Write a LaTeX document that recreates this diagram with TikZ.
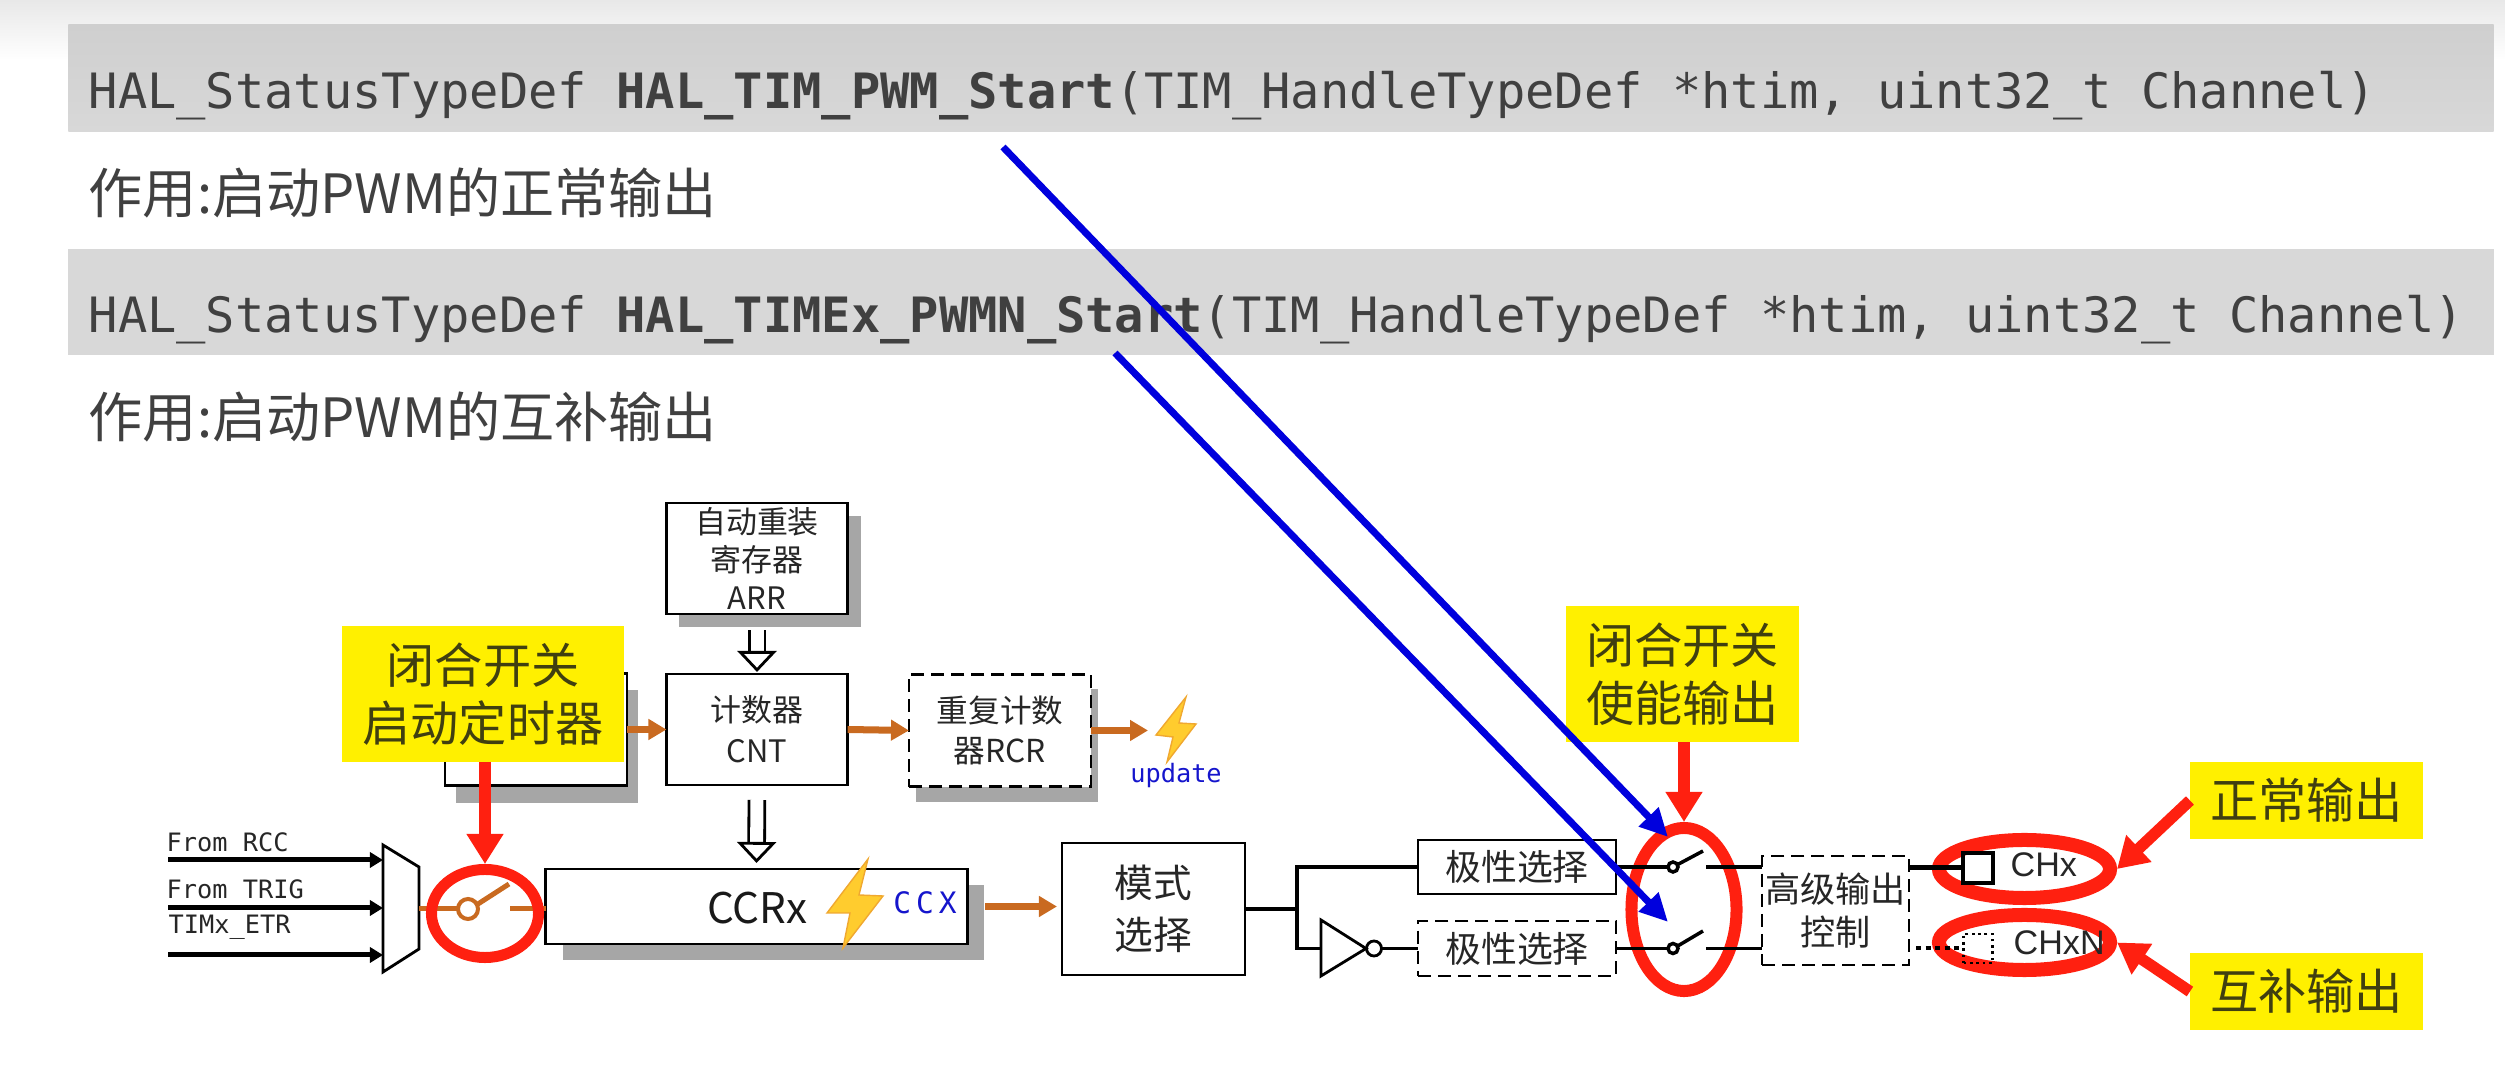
\documentclass[tikz,border=0pt]{standalone}
\usepackage{fontspec}
\usepackage{xcolor}
\setmainfont{Liberation Sans}
\setmonofont{DejaVu Sans Mono}
\newfontfamily\cjkfont{Noto Sans CJK SC}
\usepackage{tikz}
\usetikzlibrary{arrows.meta, positioning, shadows, shapes.geometric}

\definecolor{bandgray}{HTML}{D8D8D8}
\definecolor{bandtop}{HTML}{CFCFCF}
\definecolor{textgray}{HTML}{404040}
\definecolor{shadowgray}{HTML}{A6A6A6}
\definecolor{wireorange}{HTML}{C96A20}
\definecolor{markred}{HTML}{FF2010}
\definecolor{noteyellow}{HTML}{FFF000}
\definecolor{noteink}{HTML}{403F10}
\definecolor{boltyellow}{HTML}{FFCC2E}
\definecolor{boltedge}{HTML}{F0A830}
\definecolor{markblue}{HTML}{0000DD}
\definecolor{labelblue}{HTML}{1515CC}

\begin{document}
\begin{tikzpicture}[
  x=0.01cm,
  y=-0.01cm,
  block/.style={
    draw=black,
    fill=white,
    line width=0.8pt,
    inner sep=0pt,
    outer sep=0pt,
    align=center,
    text=black!85,
    font=\cjkfont\fontsize{10.2}{13}\selectfont
  },
  dashblock/.style={
    block,
    dash pattern=on 3.7pt off 2pt
  },
  shadowed/.style 2 args={
    drop shadow={shadow xshift=#1,shadow yshift=#2,fill=shadowgray,opacity=1}
  },
  band/.style={
    fill=bandgray,
    inner sep=0pt,
    outer sep=0pt,
    minimum width=24.24cm,
    minimum height=1.06cm
  },
  code/.style={
    anchor=base west,
    inner sep=0pt,
    text=textgray,
    font=\ttfamily\fontsize{13.85}{16}\selectfont
  },
  remark/.style={
    anchor=west,
    inner sep=0pt,
    text=textgray,
    font=\cjkfont\fontsize{15.4}{18}\selectfont
  },
  note/.style={
    fill=noteyellow,
    inner sep=0pt,
    outer sep=0pt,
    align=center,
    text=noteink,
    font=\cjkfont\fontsize{13.7}{16.5}\selectfont
  },
  ring/.style={
    draw=markred,
    ellipse,
    inner sep=0pt
  },
  redarrow/.style={
    draw=markred,
    line width=0.115cm,
    -{Triangle[length=0.3cm,width=0.35cm,fill=markred]}
  },
  bluearrow/.style={
    draw=markblue,
    line width=0.07cm,
    -{Triangle[length=0.28cm,width=0.26cm,fill=markblue]}
  },
  orangearrow/.style={
    draw=wireorange,
    line width=0.07cm,
    -{Triangle[length=0.18cm,width=0.2cm,fill=wireorange]}
  },
  orangewire/.style={draw=wireorange,line width=0.05cm},
  wire/.style={draw=black,line width=0.035cm},
  feedarrow/.style={
    draw=black,
    line width=0.05cm,
    -{Triangle[length=0.13cm,width=0.15cm,fill=black]}
  },
  hollowarrow/.style={
    draw=black,
    line width=0.8pt,
    double=white,
    double distance=0.13cm,
    -{Triangle[open,fill=white,length=0.21cm,width=0.39cm,line width=0.8pt]}
  },
  pivot/.style={
    circle,
    draw=black,
    fill=white,
    line width=0.035cm,
    inner sep=0pt,
    outer sep=0pt,
    minimum size=0.1cm
  },
  bolt/.style={
    draw=boltedge,
    fill=boltyellow,
    line width=0.4pt
  },
  feedlabel/.style={
    anchor=west,
    inner sep=0pt,
    text=black!85,
    font=\ttfamily\fontsize{7.2}{9}\selectfont
  },
  outlabel/.style={
    anchor=west,
    inner sep=0pt,
    text=black!85,
    font=\fontsize{9.7}{12}\selectfont
  }
]

\useasboundingbox (0,0) rectangle (2505,1089);

% Page top
\shade[top color=black!9, bottom color=white] (0,0) rectangle (2505,60);

% -------------------------------------------------------------------
% Code lines
% -------------------------------------------------------------------
\node[band, top color=bandtop, bottom color=bandgray] (band1) at (1281,78) {};
\node[band] (band2) at (1281,302) {};

\node[code] (code1) at (88,109)
{HAL\_StatusTypeDef \textbf{HAL\_TIM\_PWM\_Start}(TIM\_HandleTypeDef *htim, uint32\_t Channel)};
\node[code] (code2) at (88,333)
{HAL\_StatusTypeDef \textbf{HAL\_TIMEx\_PWMN\_Start}(TIM\_HandleTypeDef *htim, uint32\_t Channel)};

\node[remark] (use1) at (88,193) {作用:启动PWM的正常输出};
\node[remark] (use2) at (88,417) {作用:启动PWM的互补输出};

% -------------------------------------------------------------------
% Counter row
% -------------------------------------------------------------------
\node[block, shadowed={0.13cm}{-0.13cm}, minimum width=1.81cm, minimum height=1.11cm,
  font=\cjkfont\fontsize{8.8}{10.8}\selectfont] (arr) at (757,558.5)
{自动重装\\寄存器\\ARR};

\node[block, shadowed={0.11cm}{-0.17cm}, minimum width=1.82cm, minimum height=1.12cm] (psc) at (536,729.5) {};

\node[block, minimum width=1.81cm, minimum height=1.11cm,
  font=\cjkfont\fontsize{8.8}{11.6}\selectfont] (cnt) at (757,729.5)
{计数器\\CNT};

\node[dashblock, shadowed={0.07cm}{-0.15cm}, minimum width=1.82cm, minimum height=1.12cm,
  font=\cjkfont\fontsize{9}{11.2}\selectfont] (rcr) at (1000,730.5)
{重复计数\\器RCR};

\coordinate (boltin) at (1148,730.5);
\draw[bolt] (1186,697) -- (1156,735) -- (1173,737) -- (1167,762) -- (1196,724) -- (1179,723) -- cycle;
\node[inner sep=0pt, text=labelblue, font=\ttfamily\fontsize{7.2}{9}\selectfont] (update) at (1176,776) {update};

\draw[orangearrow] (psc.east) -- (cnt.west);
\draw[orangearrow] (cnt.east) -- (rcr.west);
\draw[orangearrow] (rcr.east) -- (boltin);

\draw[hollowarrow, shorten <=0.16cm, shorten >=0.02cm] (arr.south) -- (cnt.north);

% -------------------------------------------------------------------
% Clock inputs
% -------------------------------------------------------------------
\node[feedlabel] (rcclabel) at (166,842) {From RCC};
\node[feedlabel] (triglabel) at (166,889) {From TRIG};
\node[feedlabel] (etrlabel) at (168,927) {TIMx\_ETR};

\coordinate (rccin) at (168,860);
\coordinate (trigin) at (168,908);
\coordinate (etrin) at (168,955);
\coordinate (muxa) at (383,860);
\coordinate (muxb) at (383,908);
\coordinate (muxc) at (383,955);
\coordinate (muxout) at (419,909);

\draw[feedarrow] (rccin) -- (muxa);
\draw[feedarrow] (trigin) -- (muxb);
\draw[feedarrow] (etrin) -- (muxc);
\draw[draw=black, fill=white, line width=0.8pt] (383,845) -- (419,867) -- (419,949) -- (383,972) -- cycle;

% -------------------------------------------------------------------
% Compare row
% -------------------------------------------------------------------
\node[pivot, draw=wireorange, line width=0.04cm, minimum size=0.2cm] (sw0) at (468,909) {};
\coordinate (sw0tip) at (509,884);
\coordinate (sw0out) at (510,909);
\draw[orangewire] (muxout) -- (sw0.west);
\draw[orangewire] (sw0) ++(26:0.1cm) -- (sw0tip);

\node[block, shadowed={0.17cm}{-0.16cm}, minimum width=4.21cm, minimum height=0.75cm] (ccr) at (756.5,906.5) {};
\draw[orangewire] (sw0out) -- (sw0out -| ccr.west);

\node[inner sep=0pt, text=black!90, font=\cjkfont\fontsize{12}{14}\selectfont] (ccrx) at (757,908) {CCRx};
\draw[bolt] (868,859) -- (827,913) -- (850,913) -- (843,948) -- (883,896) -- (859,895) -- cycle;
\node[inner sep=0pt, text=labelblue, font=\ttfamily\fontsize{8.4}{10}\selectfont] (ccx) at (925,903) {C\kern1.4pt C\kern1.4pt X};

\draw[hollowarrow, shorten <=0.15cm, shorten >=0.06cm] (cnt.south) -- (ccr.north);

\node[block, minimum width=1.83cm, minimum height=1.32cm,
  font=\cjkfont\fontsize{11}{14.6}\selectfont] (mode) at (1153.5,909)
{模式\\选择};

\draw[orangearrow, shorten <=0.18cm, shorten >=0.05cm] (ccr.east) -- (ccr.east -| mode.west);

% -------------------------------------------------------------------
% Output stage
% -------------------------------------------------------------------
\node[ring, line width=0.12cm, minimum width=1.05cm, minimum height=1.63cm] (ring1) at (1684,909.5) {};
\node[ring, line width=0.14cm, minimum width=1.71cm, minimum height=0.58cm] (ring2) at (2024.5,869) {};
\node[ring, line width=0.14cm, minimum width=1.71cm, minimum height=0.55cm] (ring3) at (2024.5,942.5) {};

\node[block, minimum width=1.98cm, minimum height=0.54cm] (pol1) at (1517,867) {极性选择};
\node[dashblock, minimum width=1.98cm, minimum height=0.55cm] (pol2) at (1517,948.5) {极性选择};

\coordinate (branch) at (1297,909);
\coordinate (branchlow) at (1297,948.5);
\coordinate (invin) at (1321,948.5);
\node[pivot, line width=0.8pt, minimum size=0.15cm] (inv) at (1374,948.5) {};

\draw[wire] (mode.east) -- (branch);
\draw[wire] (pol1.west) -| (branchlow) -- (invin);
\draw[wire] (inv.east) -- (pol2.west);
\draw[draw=black, fill=white, line width=0.8pt] (1321,920) -- (1366,948.5) -- (1321,976) -- cycle;

\node[dashblock, minimum width=1.47cm, minimum height=1.09cm,
  font=\cjkfont\fontsize{10}{12.2}\selectfont] (ctrl) at (1835.5,910.5)
{高级输出\\控制};

\node[pivot] (sw1) at (1673,867) {};
\node[pivot] (sw2) at (1673,948.5) {};
\coordinate (sw1tip) at (1703,851);
\coordinate (sw2tip) at (1703,931);
\coordinate (sw1out) at (1706,867);
\coordinate (sw2out) at (1706,948.5);

\draw[wire] (pol1.east) -- (sw1.west);
\draw[wire] (pol2.east) -- (sw2.west);
\draw[wire] (sw1) ++(28:0.05cm) -- (sw1tip);
\draw[wire] (sw2) ++(28:0.05cm) -- (sw2tip);
\draw[wire] (sw1out) -- (sw1out -| ctrl.west);
\draw[wire] (sw2out) -- (sw2out -| ctrl.west);

% Channel pins
\node[block, line width=0.04cm, fill=none, minimum size=0.3cm] (chx) at (1978,868) {};
\node[block, fill=none, densely dotted, line width=0.6pt, minimum size=0.29cm] (chxn) at (1978,948.5) {};
\node[outlabel] (chxlabel) at (2010,865) {CHx};
\node[outlabel] (chxnlabel) at (2013,943) {CHxN};

\draw[draw=black, line width=0.05cm] (chx.west -| ctrl.east) -- (chx.west);
\draw[draw=black, line width=0.04cm, dash pattern=on 1.5pt off 1.2pt, shorten <=0.07cm] (chxn.west -| ctrl.east) -- (chxn.west);

% -------------------------------------------------------------------
% Red marks and notes
% -------------------------------------------------------------------
\node[ring, line width=0.11cm, minimum width=1.07cm, minimum height=0.88cm] (ring0) at (485,913.5) {};

\node[note, minimum width=2.82cm, minimum height=1.36cm] (start) at (483,694) {闭合开关\\启动定时器};
\node[note, minimum width=2.33cm, minimum height=1.36cm] (enable) at (1682.5,674) {闭合开关\\使能输出};
\node[note, minimum width=2.33cm, minimum height=0.77cm] (normal) at (2306.5,800.5) {正常输出};
\node[note, minimum width=2.33cm, minimum height=0.77cm] (compl) at (2306.5,991.5) {互补输出};

\draw[redarrow] (ring0.north |- start.south) -- (ring0.north);
\draw[redarrow] (ring1.north |- enable.south) -- (ring1.north);
\draw[redarrow] (normal.west) -- (ring2.east);
\draw[redarrow] (compl.west) -- (ring3.east);

% Blue pointers
\coordinate (pwmstart) at (1003,147);
\coordinate (pwmnstart) at (1115,353);
\coordinate (pwmend) at (1668,837);
\coordinate (pwmnend) at (1668,922);

\draw[bluearrow] (pwmstart) -- (pwmend);
\draw[bluearrow] (pwmnstart) -- (pwmnend);

\end{tikzpicture}
\end{document}
